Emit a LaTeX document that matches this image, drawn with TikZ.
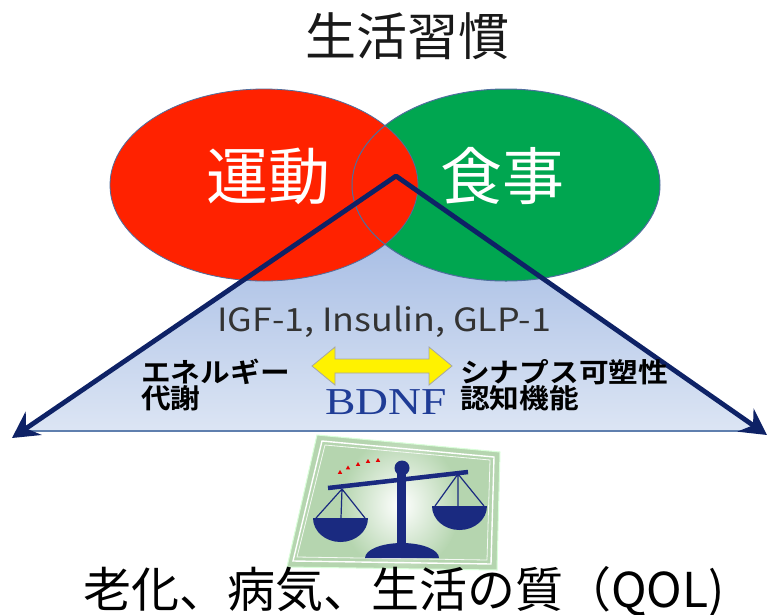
\documentclass[tikz,border=0pt]{standalone}
\usepackage{fontspec}
\newfontfamily\jp{Noto Sans CJK JP}
\newfontfamily\jpb{Noto Sans CJK JP Bold}
\newfontfamily\tms{Liberation Serif}
\usetikzlibrary{arrows.meta}

\definecolor{navy}{HTML}{0E2266}
\definecolor{scalenavy}{HTML}{1A2A80}
\definecolor{redc}{HTML}{FF2200}
\definecolor{greenc}{HTML}{00A650}
\definecolor{rimc}{HTML}{4F6E9E}
\definecolor{triTop}{HTML}{98B2E0}
\definecolor{triBot}{HTML}{DCE5F4}
\definecolor{baseln}{HTML}{5F7FAE}
\definecolor{cardgreen}{HTML}{B5D5AF}
\definecolor{bdnfblue}{HTML}{1F3C96}

\tikzset{
  jtext/.style={inner sep=0pt},
  sidelabel/.style={inner sep=0pt, anchor=west, xscale=1.1, font=\jpb\fontsize{27}{29}\selectfont, text=black},
  pathway/.style={draw=navy, line width=4.8pt, line join=round,
    {Stealth[length=26pt,width=28pt,inset=9pt]}-{Stealth[length=26pt,width=28pt,inset=9pt]}},
  scaleline/.style={draw=scalenavy, line width=1.2pt},
}

\begin{document}
\begin{tikzpicture}[x=1pt,y=-1pt]
\useasboundingbox[fill=white] (0,0) rectangle (768,614);

% shaded triangle behind the two circles
\coordinate (apex) at (396,176);
\coordinate (baseL) at (22,431);
\coordinate (baseR) at (763,431);
\coordinate (tipL) at (12,438);
\coordinate (tipR) at (767,435);
\shade[top color=triTop, bottom color=triBot] (apex) -- (baseL) -- (baseR) -- cycle;
\draw[baseln, line width=1.5pt] (baseL) -- (baseR);

% lifestyle circles
\fill[greenc] (506,185) ellipse [x radius=154, y radius=96];
\filldraw[fill=redc, draw=rimc, line width=0.8pt] (264,185) ellipse [x radius=154, y radius=96];
\draw[rimc, line width=1pt] (506,185) ellipse [x radius=154, y radius=96];

% pathways from the overlap
\draw[pathway] (tipL) -- (apex) -- (tipR);

% texts
\node[jtext, font=\jp\fontsize{51}{51}\selectfont, text=black!90] (title) at (407,36) {生活習慣};
\node[jtext, font=\jp\fontsize{62}{62}\selectfont, text=white] (exercise) at (268,176) {運動};
\node[jtext, font=\jp\fontsize{62}{62}\selectfont, text=white] (diet) at (502,176) {食事};
\node[jtext, font=\jp\fontsize{32}{32}\selectfont, text=black!80, xscale=1.12] (factors) at (384,322) {IGF-1, Insulin, GLP-1};

% yellow double arrow
\coordinate (ya) at (312,366);
\coordinate (yb) at (452,366);
\fill[yellow, draw=gray!70, line width=0.8pt]
  (ya) -- (335,347) -- (335,359) -- (429,359) -- (429,347) -- (yb)
  -- (429,385) -- (429,373) -- (335,373) -- (335,385) -- cycle;

\node[sidelabel] (energy) at (141,372) {エネルギー};
\node[sidelabel] (metab) at (141,398) {代謝};
\node[sidelabel] (synapse) at (460,372) {シナプス可塑性};
\node[sidelabel] (cognit) at (460,398) {認知機能};
\node[jtext, font=\tms\fontsize{38}{38}\selectfont, text=bdnfblue, xscale=1.2] (bdnf) at (386,402) {BDNF};

% balance card
\coordinate (c1) at (317,435);
\coordinate (c2) at (500,452);
\coordinate (c3) at (497,570);
\coordinate (c4) at (287,567);
\begin{scope}
  \clip (c1) -- (c2) -- (c3) -- (c4) -- cycle;
  \fill[cardgreen] (c1) -- (c2) -- (c3) -- (c4) -- cycle;
  \shade[inner color=white, outer color=cardgreen] (400,505) ellipse [x radius=60, y radius=68];
\end{scope}
\draw[green!15!white, line width=1pt] (c1) -- (c2) -- (c3) -- (c4) -- cycle;
\draw[white, line width=1.4pt] (322,441) -- (494,457) -- (491,564) -- (293,561) -- cycle;
\draw[white!85!cardgreen, line width=0.8pt] (325,445) -- (490,460) -- (487,560) -- (297,557) -- cycle;

% balance scale
\fill[scalenavy] (397,470) rectangle (406,552);
\fill[scalenavy] (365,558) arc[start angle=180, end angle=360, x radius=37, y radius=15] -- cycle;
\draw[scalenavy, line width=4.5pt] (328,488) -- (468,472);
\fill[scalenavy] (402,468) circle (7.5);
% left pan
\draw[scaleline] (342,489) -- (316,518) (342,489) -- (341,518) (342,489) -- (365,518);
\fill[scalenavy] (313,518) arc[start angle=180, end angle=0, x radius=27.5, y radius=24] -- cycle;
% right pan
\draw[scaleline] (458,474) -- (435,506) (458,474) -- (458,506) (458,474) -- (484,506);
\fill[scalenavy] (432,506) arc[start angle=180, end angle=0, x radius=27.5, y radius=24] -- cycle;
% red marks over the beam
\foreach \px/\py in {340/472, 348/467.5, 358/464, 368/461, 378/460}
  \fill[red!90!black] (\px-2.2,\py+1.8) -- (\px+2.2,\py+1.8) -- (\px,\py-2) -- cycle;

% bottom caption
\node[jtext, font=\jp\fontsize{48}{48}\selectfont, text=black] (outcome) at (404,592) {老化、病気、生活の質（QOL)};
\end{tikzpicture}
\end{document}
